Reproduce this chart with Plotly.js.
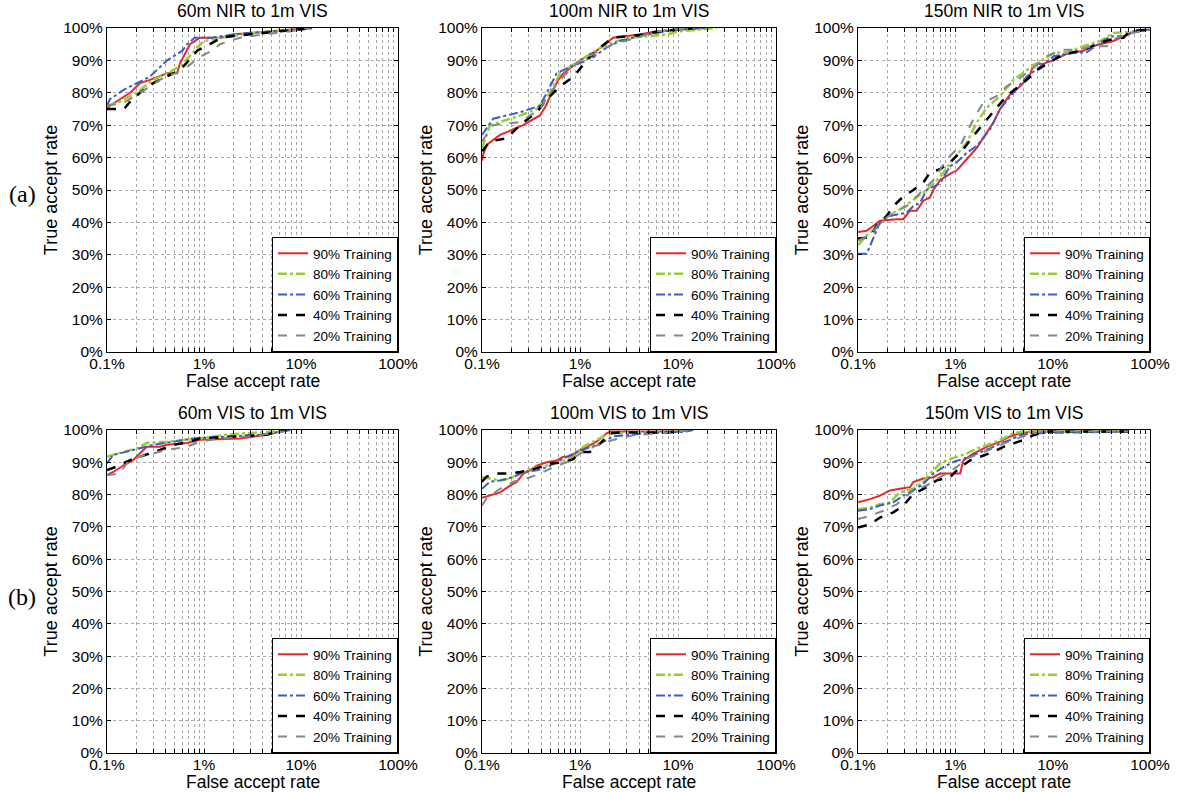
<!DOCTYPE html>
<html>
<head>
<meta charset="utf-8">
<script src="https://cdn.plot.ly/plotly-3.0.1.min.js"></script>
<style>html,body{margin:0;padding:0;background:#fff;}#chart{width:1184px;height:792px;}</style>
</head>
<body>
<div id="chart"></div>
<script>
// ---------- categories / labels ----------
const seriesNames = ["90% Training", "80% Training", "60% Training", "40% Training", "20% Training"];
const panelTitles = ["60m NIR to 1m VIS", "100m NIR to 1m VIS", "150m NIR to 1m VIS",
                     "60m VIS to 1m VIS", "100m VIS to 1m VIS", "150m VIS to 1m VIS"];
const xAxisTitle = "False accept rate";
const yAxisTitle = "True accept rate";
const rowLabels = ["(a)", "(b)"];
const xTickVals = [0.1,0.2,0.3,0.4,0.5,0.6,0.7,0.8,0.9,1,2,3,4,5,6,7,8,9,10,20,30,40,50,60,70,80,90,100];
const xTickText = ["0.1%","","","","","","","","","1%","","","","","","","","","10%","","","","","","","","","100%"];
const yTickVals = [0,10,20,30,40,50,60,70,80,90,100];
const yTickText = ["0%","10%","20%","30%","40%","50%","60%","70%","80%","90%","100%"];

// ---------- Panel 1: 60m NIR to 1m VIS (x = FAR %, y = TAR %) ----------
const nir60_90x = [0.1,0.107,0.173,0.219,0.277,0.416,0.527,0.565,0.717,0.908,1.5,2.0,5,12];
const nir60_90y = [75,76,80,83,84,86,86,89,95,97,97,98,99,100];
const nir60_80x = [0.1,0.13,0.2,0.3,0.42,0.55,0.7,0.85,1.0,1.5,2.5,5,10,13];
const nir60_80y = [76,77,80,84,86,88,91,94,96,97,98,99,99.5,100];
const nir60_60x = [0.1,0.107,0.15,0.277,0.416,0.6,0.67,0.8,1.2,2,3,6,10,14];
const nir60_60y = [76,78,81,85,90,93,95,97,97,98,98.5,99,99.5,100];
const nir60_40x = [0.1,0.15,0.17,0.219,0.3,0.416,0.565,0.75,0.85,1.15,1.5,2.0,3.0,6,10,13];
const nir60_40y = [75,75,77,80,83,85,87,91,93,95,97,97.5,98,99,99.5,100];
const nir60_20x = [0.1,0.15,0.22,0.35,0.5,0.67,0.9,1.2,1.46,2.35,4,8,12];
const nir60_20y = [76,77,80,84,86,88,91,93,95,97,98,99,100];

// ---------- Panel 2: 100m NIR to 1m VIS ----------
const nir100_90x = [0.1,0.103,0.112,0.153,0.262,0.39,0.45,0.513,0.6,0.676,1.0,1.48,2.18,4.1,6,12,20];
const nir100_90y = [59,61,64,67,70,73,76,80,84,86,90,93,97,98,99,99.5,100];
const nir100_80x = [0.1,0.121,0.244,0.362,0.494,0.625,1.0,1.87,3.2,7.6,10.4,25];
const nir100_80y = [63,70,73,75,80,86,90,95,97,98,99,100];
const nir100_60x = [0.1,0.13,0.244,0.39,0.458,0.578,0.79,1.17,1.27,1.37,1.87,2.55,4.8,7.6,14.3,20];
const nir100_60y = [67,72,74,76,80,86,88,90,92,91,94,96,98,99,100,100];
const nir100_40x = [0.1,0.121,0.179,0.244,0.362,0.458,0.625,0.86,1.17,1.6,2.18,4.4,6.5,15];
const nir100_40y = [62,65,66,70,74,78,82,85,90,94,97,98,99,100];
const nir100_20x = [0.1,0.13,0.244,0.39,0.494,0.676,0.92,1.37,2.18,3.8,6.0,15];
const nir100_20y = [65,70,71,75,80,85,89,92,95,97,99,100];

// ---------- Panel 3: 150m NIR to 1m VIS ----------
const nir150_90x = [0.1,0.1228,0.138,0.1683,0.2495,0.292,0.342,0.4,0.469,0.549,0.594,0.696,0.882,1.03,1.31,1.66,2.10,2.46,2.88,3.65,4.63,5.86,6.35,8.05,10.2,13.9,20.7,26.2,30.7,42.1,53.3,67.6,99.5];
const nir150_90y = [37,37.4,38.5,40.5,41,41,43.6,43.6,46.7,47.7,50,53,55,56,59.5,63,67.7,70.8,75,79.5,82,85.6,88.7,89,90,92,93,94.4,95,96,97.4,99,99.5];
const nir150_80x = [0.1,0.1228,0.1555,0.197,0.27,0.370,0.507,0.696,0.954,1.31,1.66,2.10,2.88,3.95,5.42,7.43,10.2,13.9,20.7,30.7,42.1,67.6,99.5];
const nir150_80y = [33,36,38.5,42,44,47,50,54,59.5,64.6,70.8,75.4,79,84,87,89.7,92.3,92.5,94.4,96,98.5,98.8,99.5];
const nir150_60x = [0.1,0.1228,0.1683,0.213,0.316,0.370,0.433,0.507,0.696,0.882,1.03,1.31,1.66,2.27,2.88,3.95,5.42,7.43,10.2,16.3,22.4,30.7,38.9,57.7,67.6,99.5];
const nir150_60y = [30.3,30.3,40,42,43,45,46,50,52,57.4,58.5,61.5,63.6,68.7,75,80,85,88,91.3,92.3,92.5,95.4,97.4,97.5,99,99.5];
const nir150_40x = [0.1,0.1328,0.1555,0.197,0.2306,0.292,0.370,0.469,0.549,0.696,0.882,1.21,1.53,2.10,2.66,3.37,4.27,5.42,6.87,8.71,11.0,13.9,20.7,28.4,38.9,53.3,62.5,99.5];
const nir150_40y = [35,35.4,39,42,45,48,50,52.3,55.4,56.4,58.5,62.6,66.7,71.8,75.4,79,81.5,84,87,89,90.8,92,93.3,95,96.4,97,99,99.5];
const nir150_20x = [0.1,0.1328,0.1683,0.2306,0.316,0.433,0.594,0.815,1.12,1.53,1.94,2.66,3.37,4.63,6.35,8.71,12.9,17.7,26.2,35.9,45.6,67.6,99.5];
const nir150_20y = [34.4,36,40,43,45,49,53,59.5,63.6,71.8,77,79,82,84.6,87.7,91.3,93.3,93.3,94.4,94.4,97,98.5,99.5];

// ---------- Panel 4: 60m VIS to 1m VIS ----------
const vis60_90x = [0.1,0.116,0.147,0.187,0.219,0.257,0.352,0.412,0.663,0.908,2.35,4.43,6.08,7.7];
const vis60_90y = [86,87,89,90.7,92.8,94.8,94.8,95.4,96,97,97.4,98.5,99.5,100];
const vis60_80x = [0.1,0.136,0.202,0.257,0.412,0.908,1.71,2.75,5.19,7.1];
const vis60_80y = [91.8,92.8,94.3,96,96.4,97.4,98.5,99,99.5,100];
const vis60_60x = [0.1,0.116,0.16,0.219,0.3,0.777,2.0,3.78,6.08,7.7];
const vis60_60y = [89.7,92.3,93.3,94.3,95.4,97.4,98,98.5,99.5,100];
const vis60_40x = [0.1,0.126,0.173,0.257,0.352,0.483,0.717,0.908,2.54,4.43,5.6,7.1];
const vis60_40y = [87.6,88.7,90.7,92.3,93.8,95.4,96.4,97.4,98,98.5,99.5,100];
const vis60_20x = [0.1,0.136,0.16,0.219,0.412,0.663,0.908,1.46,2.75,5.19,8.3];
const vis60_20y = [86,86.6,89.7,91.8,93.8,94.8,96.4,97.4,98,99,100];

// ---------- Panel 5: 100m VIS to 1m VIS ----------
const vis100_90x = [0.1,0.121,0.153,0.193,0.226,0.264,0.309,0.362,0.458,0.578,0.676,0.79,0.924,1.17,1.48,1.87,2.02,10.4,13.2];
const vis100_90y = [79,79.7,80.7,82.8,83.9,86.5,87.5,89,90,90.6,91.7,91.7,93.2,94.8,96.4,99,99.5,99.5,100];
const vis100_80x = [0.1,0.121,0.153,0.193,0.244,0.309,0.458,0.625,0.855,1.08,1.37,1.73,2.18,10.4,13.2];
const vis100_80y = [85.4,85,84.4,85,86.5,88,89,90,91.7,94.8,96.4,98,99,99.5,100];
const vis100_60x = [0.1,0.121,0.153,0.209,0.264,0.362,0.458,0.625,0.855,1.17,1.6,2.18,2.98,4.79,12.2,14.3];
const vis100_60y = [81.8,84,84.4,85.4,87,87.5,88.5,90.6,92.7,94.3,95.8,98,98.4,99,99.5,100];
const vis100_40x = [0.1,0.112,0.141,0.193,0.244,0.309,0.39,0.494,0.676,0.855,1.0,1.26,1.6,2.02,2.55,7.65,12.2];
const vis100_40y = [84,85.6,86.5,86.5,87,87.5,88.5,89.6,90,91,93.2,93.2,95.8,99,99.2,99.2,100];
const vis100_20x = [0.1,0.112,0.153,0.209,0.286,0.39,0.534,0.731,1.0,1.37,1.87,2.55,3.49,6.54,10.4,14.3];
const vis100_20y = [76.6,79,81.8,84,85,86.5,88.5,90,92.7,94.8,96.4,97.4,98.4,99,99.5,100];

// ---------- Panel 6: 150m VIS to 1m VIS ----------
const vis150_90x = [0.1,0.133,0.168,0.213,0.27,0.342,0.37,0.469,0.595,0.696,0.882,1.12,1.21,1.53,2.10,2.88,3.65,4.63,6.35,60];
const vis150_90y = [77.6,78.6,79.7,81.3,81.8,82.3,83.9,85,85.4,86.5,86.5,86.5,90.6,92.7,94.8,96.4,98,99,99.5,99.5];
const vis150_80x = [0.1,0.133,0.168,0.213,0.27,0.37,0.469,0.549,0.696,0.815,1.03,1.31,1.66,2.10,2.88,3.95,5.0,60];
const vis150_80y = [75.5,76,77,77.6,80.7,81.8,83.9,86.5,89.6,90.6,91.7,92.7,94.3,95.3,96.9,99,99.5,99.5];
const vis150_60x = [0.1,0.133,0.168,0.231,0.292,0.37,0.469,0.595,0.754,0.954,1.21,1.66,2.27,2.88,3.65,4.63,6.35,60];
const vis150_60y = [75,75.5,76.6,77.6,79.7,81.3,83.3,86.5,88.5,90.1,91.1,92.7,94.3,95.8,96.9,98.4,99,99.5];
const vis150_40x = [0.1,0.133,0.168,0.231,0.292,0.37,0.508,0.643,0.882,1.12,1.42,1.80,2.46,3.12,3.95,5.0,6.35,8.71,60];
const vis150_40y = [69.8,70.8,72.9,74.5,76.6,80.2,82.3,84.4,85.4,88.5,90.6,91.7,93.2,94.8,95.8,96.9,98.4,99.5,99.5];
const vis150_20x = [0.1,0.133,0.182,0.25,0.317,0.401,0.508,0.643,0.815,1.03,1.31,1.80,2.46,3.12,4.27,5.42,7.43,60];
const vis150_20y = [72.4,73.4,75,77,79.7,81.8,82.8,84.9,86.5,88.5,91.1,92.7,94.3,95.8,97.4,98.4,99.5,99.5];

// ---------- assemble ----------
const panels = [
  [[nir60_90x,nir60_90y],[nir60_80x,nir60_80y],[nir60_60x,nir60_60y],[nir60_40x,nir60_40y],[nir60_20x,nir60_20y]],
  [[nir100_90x,nir100_90y],[nir100_80x,nir100_80y],[nir100_60x,nir100_60y],[nir100_40x,nir100_40y],[nir100_20x,nir100_20y]],
  [[nir150_90x,nir150_90y],[nir150_80x,nir150_80y],[nir150_60x,nir150_60y],[nir150_40x,nir150_40y],[nir150_20x,nir150_20y]],
  [[vis60_90x,vis60_90y],[vis60_80x,vis60_80y],[vis60_60x,vis60_60y],[vis60_40x,vis60_40y],[vis60_20x,vis60_20y]],
  [[vis100_90x,vis100_90y],[vis100_80x,vis100_80y],[vis100_60x,vis100_60y],[vis100_40x,vis100_40y],[vis100_20x,vis100_20y]],
  [[vis150_90x,vis150_90y],[vis150_80x,vis150_80y],[vis150_60x,vis150_60y],[vis150_40x,vis150_40y],[vis150_20x,vis150_20y]]
];

const lineStyles = [
  {color:"#e8262b", dash:"solid", width:2},
  {color:"#9acd32", dash:"dashdot", width:2.5},
  {color:"#3d5bc9", dash:"dashdot", width:2},
  {color:"#000000", dash:"dash", width:2.5},
  {color:"#7d8a8c", dash:"dash", width:2}
];

const W = 1184, H = 792;
const colPx = [[107,398],[482,776],[858,1150]];
const rowPx = [[28,352],[430,753]];
const FONT = "Liberation Sans, Arial, sans-serif";

const traces = [];
const layout = {
  width: W, height: H,
  margin: {l:0, r:0, t:0, b:0},
  paper_bgcolor: "#ffffff", plot_bgcolor: "#ffffff",
  font: {family: FONT, size: 14, color: "#000"},
  annotations: [],
  showlegend: true
};

for (let p = 0; p < 6; p++) {
  const r = Math.floor(p / 3), c = p % 3;
  const n = p + 1;
  const xa = "x" + (n === 1 ? "" : n), ya = "y" + (n === 1 ? "" : n);
  const lg = "legend" + (n === 1 ? "" : n);
  for (let s = 0; s < 5; s++) {
    traces.push({
      type: "scatter", mode: "lines",
      x: panels[p][s][0], y: panels[p][s][1],
      xaxis: xa, yaxis: ya, legend: lg,
      name: seriesNames[s],
      line: lineStyles[s],
      hoverinfo: "x+y+name"
    });
  }
  const xd = [colPx[c][0]/W, colPx[c][1]/W];
  const yd = [1 - rowPx[r][1]/H, 1 - rowPx[r][0]/H];
  layout["xaxis" + (n === 1 ? "" : n)] = {
    domain: xd, anchor: ya, type: "log", range: [-1, 2],
    tickvals: xTickVals, ticktext: xTickText,
    ticks: "inside", ticklen: 4, tickcolor: "#000",
    ticklabelstandoff: -3,
    showline: true, linecolor: "#000", linewidth: 1, mirror: "ticks",
    showgrid: true, gridcolor: "#a8a8a8", griddash: "dot", gridwidth: 1,
    zeroline: false,
    tickfont: {family: FONT, size: 15.5, color: "#000"}
  };
  layout["yaxis" + (n === 1 ? "" : n)] = {
    domain: yd, anchor: xa, range: [0, 100],
    tickvals: yTickVals, ticktext: yTickText,
    ticks: "inside", ticklen: 4, tickcolor: "#000",
    showline: true, linecolor: "#000", linewidth: 1, mirror: "ticks",
    showgrid: true, gridcolor: "#a8a8a8", griddash: "dot", gridwidth: 1,
    zeroline: false,
    tickfont: {family: FONT, size: 15.5, color: "#000"},
    title: {text: yAxisTitle, font: {family: FONT, size: 18, color: "#000"}, standoff: 0}
  };
  layout[lg] = {
    x: colPx[c][1]/W, xanchor: "right",
    y: 1 - rowPx[r][1]/H, yanchor: "bottom",
    bgcolor: "#ffffff", bordercolor: "#000", borderwidth: 1,
    font: {family: FONT, size: 13.5, color: "#000"},
    tracegroupgap: 0
  };
  layout.annotations.push({
    text: panelTitles[p], xref: "paper", yref: "paper",
    x: (colPx[c][0] + colPx[c][1]) / 2 / W, y: 1 - (rowPx[r][0] - 5) / H,
    xanchor: "center", yanchor: "bottom", showarrow: false,
    font: {family: FONT, size: 17.5, color: "#000"}
  });
  layout.annotations.push({
    text: xAxisTitle, xref: "paper", yref: "paper",
    x: (colPx[c][0] + colPx[c][1]) / 2 / W, y: 1 - (rowPx[r][1] + 29) / H,
    xanchor: "center", yanchor: "middle", showarrow: false,
    font: {family: FONT, size: 17.5, color: "#000"}
  });
}
for (let r = 0; r < 2; r++) {
  layout.annotations.push({
    text: rowLabels[r], xref: "paper", yref: "paper",
    x: 22 / W, y: 1 - (r === 0 ? 194 : 597) / H,
    xanchor: "center", yanchor: "middle", showarrow: false,
    font: {family: "Liberation Serif, DejaVu Serif, serif", size: 24, color: "#000"}
  });
}

Plotly.newPlot("chart", traces, layout, {displayModeBar: false, staticPlot: true});
</script>
</body>
</html>
